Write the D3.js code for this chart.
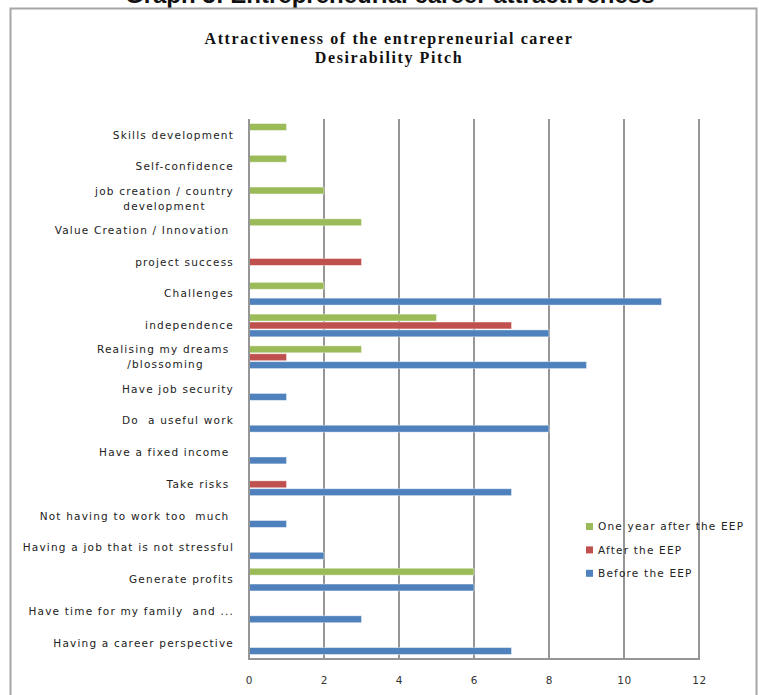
<!DOCTYPE html>
<html><head><meta charset="utf-8">
<script src="https://cdn.jsdelivr.net/npm/d3@7"></script>
<style>body{margin:0;background:#fff;overflow:hidden} svg{display:block}</style>
</head><body><svg id="c" width="759" height="695"></svg>
<script>
const categories = [
  "Skills development",
  "Self-confidence",
  "job creation / country\ndevelopment",
  "Value Creation / Innovation ",
  "project success",
  "Challenges",
  "independence",
  "Realising my dreams \n/blossoming",
  "Have job security",
  "Do  a useful work",
  "Have a fixed income ",
  "Take risks ",
  "Not having to work too  much ",
  "Having a job that is not stressful",
  "Generate profits",
  "Have time for my family  and ...",
  "Having a career perspective"
];
const seriesNames = ["One year after the EEP", "After the EEP", "Before the EEP"];
const seriesColors = ["#9BBB59", "#C0504D", "#4F81BD"];
const oneYearAfter = [1, 1, 2, 3, 0, 2, 5, 3, 0, 0, 0, 0, 0, 0, 6, 0, 0];
const afterEEP     = [0, 0, 0, 0, 3, 0, 7, 1, 0, 0, 0, 1, 0, 0, 0, 0, 0];
const beforeEEP    = [0, 0, 0, 0, 0, 11, 8, 9, 1, 8, 1, 7, 1, 2, 6, 3, 7];
const xTicks = [0, 2, 4, 6, 8, 10, 12];
const titleLines = ["Attractiveness of  the entrepreneurial career", "Desirability Pitch"];
const pageTitle = "Graph 3: Entrepreneurial career attractiveness";

const seriesValues = [oneYearAfter, afterEEP, beforeEEP];
const svg = d3.select("#c");
const L = 249, R = 699, T = 119, B = 659;
const lblFont = "'DejaVu Sans', Verdana, sans-serif";

// page heading, cut off by the top edge as in the original
svg.append("text").attr("x", 125).attr("y", 3).attr("font-family", "'Liberation Sans', Arial, sans-serif")
  .attr("font-weight", "bold").attr("font-size", 24).attr("fill", "#111").text(pageTitle);

// chart frame
svg.append("rect").attr("x", 10.5).attr("y", 8.5).attr("width", 746).attr("height", 700)
  .attr("fill", "#fff").attr("stroke", "#a6a6a6").attr("stroke-width", 2);

// title
svg.append("g").selectAll("text").data(titleLines).join("text")
  .attr("x", 389).attr("y", (d, i) => 44 + i * 19).attr("text-anchor", "middle")
  .attr("font-family", "'Liberation Serif', 'Times New Roman', serif").attr("font-weight", "bold")
  .attr("font-size", 16).attr("letter-spacing", 1.6).attr("fill", "#111").text(d => d);

const x = d3.scaleLinear().domain([0, 12]).range([L, R]);
const y0 = d3.scaleBand().domain(categories).range([T, B]).paddingInner(0.254).paddingOuter(0.127);
const y1 = d3.scaleBand().domain(seriesNames).range([0, y0.bandwidth()]);

// gridlines
svg.append("g").selectAll("line").data(xTicks.slice(1)).join("line")
  .attr("x1", d => x(d)).attr("x2", d => x(d)).attr("y1", T).attr("y2", B)
  .attr("stroke", "#969696").attr("stroke-width", 2);

// bars
const bars = [];
categories.forEach((c, ci) => seriesNames.forEach((s, si) => {
  if (seriesValues[si][ci] > 0) bars.push({c, s, si, v: seriesValues[si][ci]});
}));
svg.append("g").selectAll("rect").data(bars).join("rect")
  .attr("x", x(0)).attr("y", d => y0(d.c) + y1(d.s) + 0.5)
  .attr("width", d => x(d.v) - x(0)).attr("height", y1.bandwidth() - 1)
  .attr("fill", d => seriesColors[d.si]).attr("stroke", "#fff").attr("stroke-opacity", 0.5).attr("stroke-width", 0.8);

// axes lines
svg.append("line").attr("x1", L).attr("x2", L).attr("y1", T).attr("y2", B + 1).attr("stroke", "#969696").attr("stroke-width", 2);
svg.append("line").attr("x1", L - 1).attr("x2", R + 1).attr("y1", B).attr("y2", B).attr("stroke", "#969696").attr("stroke-width", 2);

// x tick labels
const xAxis = d3.axisBottom(x).tickValues(xTicks).tickSize(0).tickPadding(18);
const gx = svg.append("g").attr("transform", `translate(0,${B})`).call(xAxis);
gx.select(".domain").remove();
gx.selectAll("text").attr("font-family", lblFont).attr("font-size", 10.5).attr("fill", "#333").attr("letter-spacing", 0.6);

// category labels
const gl = svg.append("g").attr("font-family", lblFont).attr("font-size", 10.5).attr("fill", "#222").attr("letter-spacing", 1.2);
categories.forEach(c => {
  const lines = c.split("\n");
  const cy = y0(c) + y0.bandwidth() / 2;
  const lh = 15;
  const g = gl.append("g");
  const texts = lines.map((ln, i) => g.append("text").attr("xml:space", "preserve")
    .attr("y", cy + (i - (lines.length - 1) / 2) * lh).attr("dy", "0.35em").text(ln));
  if (lines.length === 1) {
    texts[0].attr("x", 234).attr("text-anchor", "end");
  } else {
    const w = d3.max(texts, t => t.node().getComputedTextLength());
    texts.forEach(t => t.attr("x", 234 - w / 2).attr("text-anchor", "middle"));
  }
});

// legend
const lg = svg.append("g").attr("font-family", lblFont).attr("font-size", 10.5).attr("fill", "#222").attr("letter-spacing", 1.2);
seriesNames.forEach((s, i) => {
  const cy = 526.5 + i * 23.4;
  lg.append("rect").attr("x", 586).attr("y", cy - 3.5).attr("width", 7).attr("height", 7).attr("fill", seriesColors[i]);
  lg.append("text").attr("x", 598).attr("y", cy).attr("dy", "0.35em").text(s);
});
</script></body></html>
